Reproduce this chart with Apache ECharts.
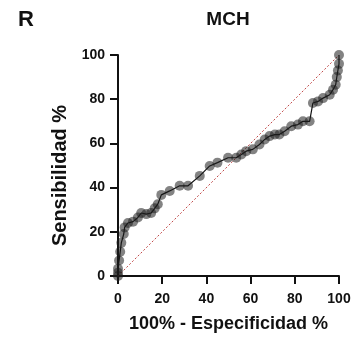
<!DOCTYPE html>
<html><head><meta charset="utf-8">
<script src="https://cdn.jsdelivr.net/npm/echarts@6/dist/echarts.min.js"></script>
<style>html,body{margin:0;padding:0;background:#fff}#c{width:358px;height:338px}</style>
</head><body><div id="c"></div>
<script>
const fpr = [0,0,0,0.5,1,1.5,2.6,3,4.5,6.8,9,10.5,12.8,15,16.6,18,19.6,23.4,27.9,31.7,37,41.5,45,49.8,53.5,55.8,58,61,64,66.4,68.6,71,73,75.4,78.4,81.4,83.7,86.7,88.2,90.5,92.8,95.8,97.3,98.5,99,99.5,100,100];
const tpr = [0,1.5,3.3,7,11,15,19,22,24,24.6,26.5,28.5,28,28.5,30.6,32.5,36.7,38.5,40.8,40.8,45.3,49.8,51.3,53.5,53.5,55,56.5,57.3,59.5,61.8,63.3,64,64,65.5,67.8,68.5,70,70,78.3,79,80.5,82,84.3,86.5,90,93,96,100];
const diagX = [0,100];
const diagY = [0,100];
const font = 'Liberation Sans, Arial, sans-serif';
const chart = echarts.init(document.getElementById('c'));
chart.setOption({
  animation:false,
  title:[
    {text:'MCH',left:228,top:10,padding:0,textAlign:'center',textStyle:{fontFamily:font,fontWeight:'bold',fontSize:19,color:'#111'}},
    {text:'R',left:18,top:9,padding:0,textStyle:{fontFamily:font,fontWeight:'bold',fontSize:22,color:'#111'}}
  ],
  grid:{left:118,right:19,top:55,bottom:61},
  xAxis:{type:'value',min:0,max:100,interval:20,
    name:'100% - Especificidad %',nameLocation:'middle',nameGap:39,
    nameTextStyle:{fontFamily:font,fontWeight:'bold',fontSize:18,color:'#111'},
    axisLine:{lineStyle:{color:'#111',width:2}},
    axisTick:{length:8,lineStyle:{color:'#111',width:2}},
    axisLabel:{fontFamily:font,fontWeight:'bold',fontSize:14,color:'#111',margin:16},
    splitLine:{show:false}},
  yAxis:{type:'value',min:0,max:100,interval:20,
    name:'Sensibilidad %',nameLocation:'middle',nameGap:46,
    nameTextStyle:{fontFamily:font,fontWeight:'bold',fontSize:20,color:'#111',padding:[0,20,0,0]},
    axisLine:{show:true,lineStyle:{color:'#111',width:2}},
    axisTick:{show:true,length:8,lineStyle:{color:'#111',width:2}},
    axisLabel:{fontFamily:font,fontWeight:'bold',fontSize:14,color:'#111',margin:13},
    splitLine:{show:false}},
  series:[
    {type:'line',data:diagX.map((x,i)=>[x,diagY[i]]),symbol:'none',
     lineStyle:{color:'#c04848',width:1,type:[2,2]},z:1},
    {type:'line',data:fpr.map((x,i)=>[x,tpr[i]]),symbol:'circle',symbolSize:10,
     itemStyle:{color:'rgba(30,30,30,0.55)',borderWidth:0},
     lineStyle:{color:'#111',width:1.2},z:2}
  ]
});
</script></body></html>
